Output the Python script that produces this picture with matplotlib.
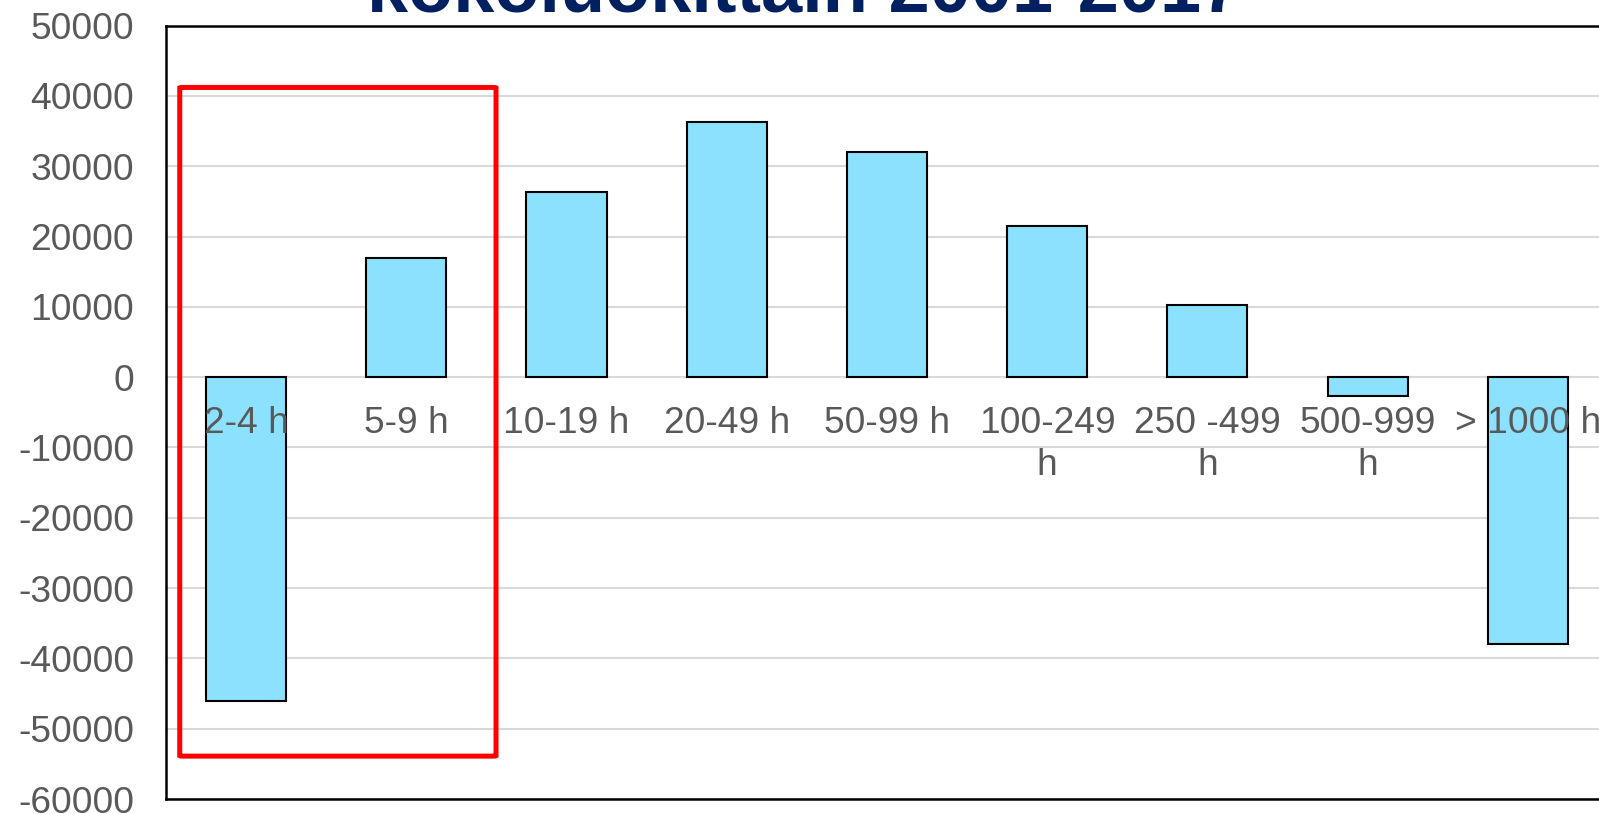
import matplotlib.pyplot as plt
from matplotlib.patches import FancyBboxPatch

plt.rcParams['font.family'] = ['Liberation Sans', 'DejaVu Sans']

# Size classes (hours) and change in number of workers 2001-2017
categories = ["2-4 h", "5-9 h", "10-19 h", "20-49 h", "50-99 h",
              "100-249\nh", "250 -499\nh", "500-999\nh", "> 1000 h"]
values = [-46100, 17000, 26400, 36300, 32000, 21500, 10300, -2750, -38000]
y_ticks = list(range(-60000, 50001, 10000))
title = "kokoluokittain 2001-2017"

fig = plt.figure(figsize=(15.99, 8.14), dpi=100)
ax = fig.add_axes([0.1038, 0.0184, 0.9018, 0.9502])

x = list(range(len(categories)))
ax.bar(x, values, width=0.5, color="#8CE1FE", edgecolor="black",
       linewidth=1.5, zorder=3)

ax.set_xlim(-0.5, len(categories) - 0.5)
ax.set_ylim(-60000, 50000)
ax.set_yticks(y_ticks)
ax.set_yticklabels([str(v) for v in y_ticks])
ax.tick_params(axis="y", length=0, pad=23, labelsize=26.7, labelcolor="#595959")
ax.set_xticks([])
ax.grid(axis="y", color="#d9d9d9", linewidth=1.5, zorder=0)
for s in ax.spines.values():
    s.set_linewidth(1.8)
    s.set_color("black")

# category labels sit just under the zero line, like the Excel original
for i, lab in enumerate(categories):
    ax.annotate(lab, xy=(i, 0), xytext=(0, -21), textcoords="offset points",
                ha="center", va="top", fontsize=26.7, color="#595959",
                linespacing=1.25, zorder=5)

# red highlight frame around the two smallest classes
box = FancyBboxPatch((-0.414, -53900), 1.974, 95100,
                     boxstyle="round,pad=0,rounding_size=0.02",
                     fill=False, edgecolor="#ff0000", linewidth=3.6,
                     zorder=6, mutation_aspect=3000)
ax.add_patch(box)

fig.text(0.5034, 0.9856, title, ha="center", va="baseline", fontsize=53.3,
         fontweight="bold", color="#002060")

fig.savefig("out.png", dpi=100)
